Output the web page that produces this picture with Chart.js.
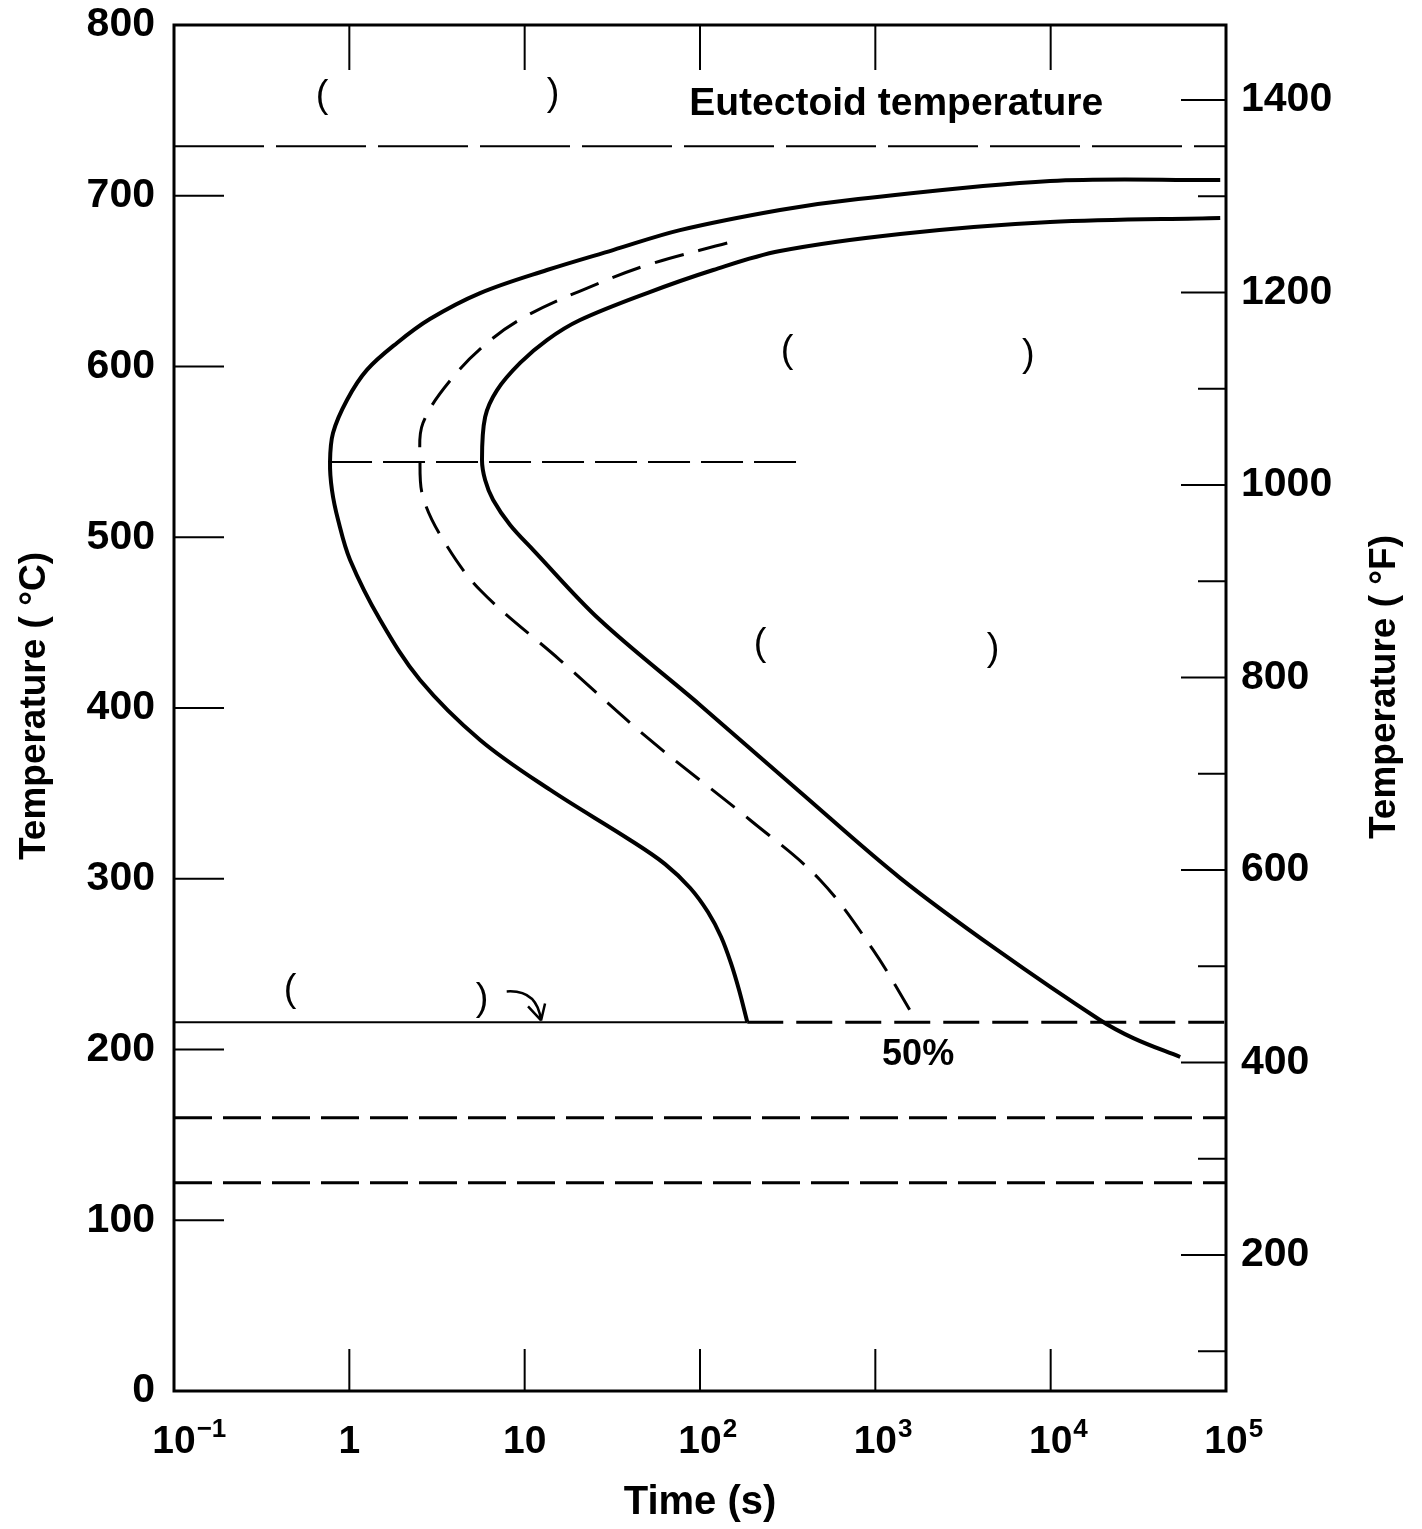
<!DOCTYPE html>
<html><head><meta charset="utf-8">
<script src="https://cdn.jsdelivr.net/npm/chart.js@4.4.0/dist/chart.umd.min.js"></script>
<style>html,body{margin:0;padding:0;background:#fff;}#wrap{width:1422px;height:1529px;}</style>
</head><body><div id="wrap"><canvas id="c" width="1422" height="1529"></canvas></div>
<script>
// ---- tick values / labels ----
const timeTicks = [0.1, 1, 10, 100, 1000, 10000, 100000];
const timeTickBase = ["10", "1", "10", "10", "10", "10", "10"];
const timeTickExp = ["\u22121", "", "", "2", "3", "4", "5"];
const celsiusTicks = [0, 100, 200, 300, 400, 500, 600, 700, 800];
const fahrenheitMajor = [200, 400, 600, 800, 1000, 1200, 1400];
const fahrenheitMinor = [100, 300, 500, 700, 900, 1100, 1300];

// ---- curves (time in s, temperature in °C) ----
const startTime = [92700, 9930, 718, 286, 76.9, 31.9, 13.4, 5.57, 2.88, 1.87, 1.26, 0.97, 0.807, 0.776,
  0.796, 0.863, 1.01, 1.50, 2.53, 5.57, 14.0, 39.9, 63.2, 87.9, 111, 132, 150, 167, 186];
const startTemp = [709.2, 708.6, 697.5, 691.7, 679.9, 668.2, 656.5, 643.0, 627.8, 613.8, 598.0, 580.4, 561.1, 544.1,
  527.7, 510.1, 486.7, 451.5, 416.4, 381.3, 352.0, 322.7, 308.6, 294.6, 280.5, 265.9, 250.7, 234.8, 216.1];

const halfTime = [143, 49.9, 20.7, 10.7, 6.61, 3.91, 2.63, 2.53,
  2.63, 3.43, 5.57, 15.9, 51.9, 193, 484, 971, 1730];
const halfTemp = [672.3, 659.4, 644.2, 630.7, 616.7, 593.9, 566.9, 545.2,
  523.6, 498.4, 469.1, 428.1, 381.3, 334.4, 299.3, 258.3, 216.1];

const finishTime = [92700, 9930, 1387, 286, 119, 49.9, 20.7, 13.4, 9.42, 6.96, 5.95, 5.71,
  5.95, 6.61, 8.26, 11.2, 26.9, 100, 372, 1387, 4950, 19100, 29600, 54800];
const finishTemp = [687.0, 684.6, 677.6, 667.6, 656.5, 643.0, 627.2, 615.5, 602.1, 586.2, 570.4, 545.2,
  533.5, 521.8, 507.2, 492.5, 451.5, 401.8, 350.8, 300.4, 258.3, 217.3, 206.7, 195.6];

// ---- horizontal reference lines ----
const eutectoidTemp = 729;
const noseTemp = 544;
const noseSpan = [0.776, 385];
const msTemp = 216;
const msSplitTime = 186;
const m50Temp = 160;
const m90Temp = 122;
const tMin = 0.1, tMax = 100000;

// ---- text annotations (data coordinates) ----
const notes = [
  {text: "(", t: 0.698, T: 758, font: "38px"},
  {text: ")", t: 14.5, T: 759, font: "38px"},
  {text: "Eutectoid temperature", t: 1315, T: 753.7, font: "bold 39px"},
  {text: "(", t: 314, T: 608.5, font: "38px"},
  {text: ")", t: 7450, T: 606.7, font: "38px"},
  {text: "(", t: 220, T: 436.9, font: "38px"},
  {text: ")", t: 4700, T: 434, font: "38px"},
  {text: "(", t: 0.459, T: 234.8, font: "38px"},
  {text: ")", t: 5.71, T: 229, font: "38px"},
  {text: "50%", t: 1754, T: 196.8, font: "bold 36px"}
];

function pts(xs, ys) { return xs.map((x, i) => ({x: x, y: ys[i]})); }
function hline(T, a, b) { return [{x: a, y: T}, {x: b, y: T}]; }

const base = {showLine: true, pointRadius: 0, borderColor: '#000', fill: false, xAxisID: 'x', yAxisID: 'y'};

const datasets = [
  Object.assign({}, base, {data: pts(startTime, startTemp), borderWidth: 4, tension: 0.35}),
  Object.assign({}, base, {data: pts(halfTime, halfTemp), borderWidth: 3, borderDash: [30, 15], tension: 0.35}),
  Object.assign({}, base, {data: pts(finishTime, finishTemp), borderWidth: 4, tension: 0.35}),
  Object.assign({}, base, {data: hline(eutectoidTemp, tMin, tMax), borderWidth: 2, borderDash: [90, 12]}),
  Object.assign({}, base, {data: hline(noseTemp, noseSpan[0], noseSpan[1]), borderWidth: 2, borderDash: [42, 11]}),
  Object.assign({}, base, {data: hline(msTemp, tMin, msSplitTime), borderWidth: 2}),
  Object.assign({}, base, {data: hline(msTemp, msSplitTime, tMax), borderWidth: 3, borderDash: [36, 13]}),
  Object.assign({}, base, {data: hline(m50Temp, tMin, tMax), borderWidth: 3, borderDash: [38, 11]}),
  Object.assign({}, base, {data: hline(m90Temp, tMin, tMax), borderWidth: 3, borderDash: [38, 11]})
];

const FONT = "'Liberation Sans', Arial, sans-serif";

const decor = {
  id: 'decor',
  afterDatasetsDraw(chart) {
    const ctx = chart.ctx, a = chart.chartArea;
    const sx = chart.scales.x, sy = chart.scales.y, sf = chart.scales.yF;
    ctx.save();
    ctx.strokeStyle = '#000'; ctx.fillStyle = '#000';
    // frame
    ctx.lineWidth = 3;
    ctx.strokeRect(a.left, a.top, a.right - a.left, a.bottom - a.top);
    // ticks
    ctx.lineWidth = 2;
    ctx.beginPath();
    celsiusTicks.forEach(v => { const y = sy.getPixelForValue(v); ctx.moveTo(a.left, y); ctx.lineTo(a.left + 50, y); });
    timeTicks.forEach(v => { const x = sx.getPixelForValue(v);
      ctx.moveTo(x, a.top); ctx.lineTo(x, a.top + 45);
      ctx.moveTo(x, a.bottom); ctx.lineTo(x, a.bottom - 42); });
    fahrenheitMajor.forEach(v => { const y = sf.getPixelForValue(v); ctx.moveTo(a.right, y); ctx.lineTo(a.right - 45, y); });
    fahrenheitMinor.forEach(v => { const y = sf.getPixelForValue(v); ctx.moveTo(a.right, y); ctx.lineTo(a.right - 28, y); });
    ctx.stroke();
    // x tick labels with superscripts
    ctx.textBaseline = 'alphabetic';
    timeTicks.forEach((v, i) => {
      const x = sx.getPixelForValue(v);
      ctx.font = "bold 39px " + FONT;
      ctx.textAlign = 'center';
      ctx.fillText(timeTickBase[i], x, 1453);
      if (timeTickExp[i]) {
        const w = ctx.measureText(timeTickBase[i]).width;
        ctx.font = "bold 26px " + FONT;
        ctx.textAlign = 'left';
        ctx.fillText(timeTickExp[i], x + w / 2 + 1, 1437);
      }
    });
    // axis titles
    ctx.font = "bold 40px " + FONT;
    ctx.textAlign = 'center'; ctx.textBaseline = 'middle';
    ctx.fillText("Time (s)", (a.left + a.right) / 2, 1503);
    ctx.font = "bold 37px " + FONT;
    ctx.save(); ctx.translate(35, 706); ctx.rotate(-Math.PI / 2); ctx.fillText("Temperature ( \u00B0C)", 0, 0); ctx.restore();
    ctx.save(); ctx.translate(1385, 687); ctx.rotate(-Math.PI / 2); ctx.fillText("Temperature ( \u00B0F)", 0, 0); ctx.restore();
    // annotations
    notes.forEach(n => {
      ctx.font = n.font + " " + FONT;
      ctx.fillText(n.text, sx.getPixelForValue(n.t), sy.getPixelForValue(n.T));
    });
    // small hooked arrow pointing to the Ms line
    const ax = sx.getPixelForValue(7.9), ay = sy.getPixelForValue(234);
    const bx = sx.getPixelForValue(12.4), by = sy.getPixelForValue(msTemp + 1);
    ctx.lineWidth = 2.5;
    ctx.beginPath();
    ctx.moveTo(ax, ay);
    ctx.quadraticCurveTo(bx - 4, ay - 2, bx, by);
    ctx.moveTo(bx, by); ctx.lineTo(bx - 13, by - 14);
    ctx.moveTo(bx, by); ctx.lineTo(bx + 4, by - 17);
    ctx.stroke();
    ctx.restore();
  }
};

function noPad(s) { s.paddingTop = 0; s.paddingBottom = 0; s.paddingLeft = 0; s.paddingRight = 0; }

new Chart(document.getElementById('c'), {
  type: 'scatter',
  data: {datasets: datasets},
  options: {
    responsive: false, animation: false, devicePixelRatio: 1,
    layout: {padding: {top: 25, left: 0, right: 0, bottom: 0}},
    plugins: {legend: {display: false}, tooltip: {enabled: false}, title: {display: false}},
    scales: {
      x: {type: 'logarithmic', min: tMin, max: tMax, position: 'bottom',
        afterFit: s => { s.height = 138; noPad(s); },
        afterBuildTicks: s => { s.ticks = timeTicks.map(v => ({value: v})); },
        ticks: {display: false}, grid: {display: false, drawTicks: false}, border: {display: false}},
      y: {type: 'linear', min: 0, max: 800, position: 'left',
        afterFit: s => { s.width = 174; noPad(s); },
        afterBuildTicks: s => { s.ticks = celsiusTicks.map(v => ({value: v})); },
        ticks: {padding: 19, color: '#000', font: {family: FONT, size: 41, weight: 'bold'}, autoSkip: false,
          callback: v => String(v)},
        grid: {display: false, drawTicks: false}, border: {display: false}},
      yF: {type: 'linear', min: 58.7, max: 1478, position: 'right',
        afterFit: s => { s.width = 196; noPad(s); },
        afterBuildTicks: s => { s.ticks = fahrenheitMajor.map(v => ({value: v})); },
        ticks: {padding: 15, color: '#000', font: {family: FONT, size: 41, weight: 'bold'}, autoSkip: false,
          callback: v => String(v)},
        grid: {display: false, drawTicks: false}, border: {display: false}}
    }
  },
  plugins: [decor]
});
</script></body></html>
